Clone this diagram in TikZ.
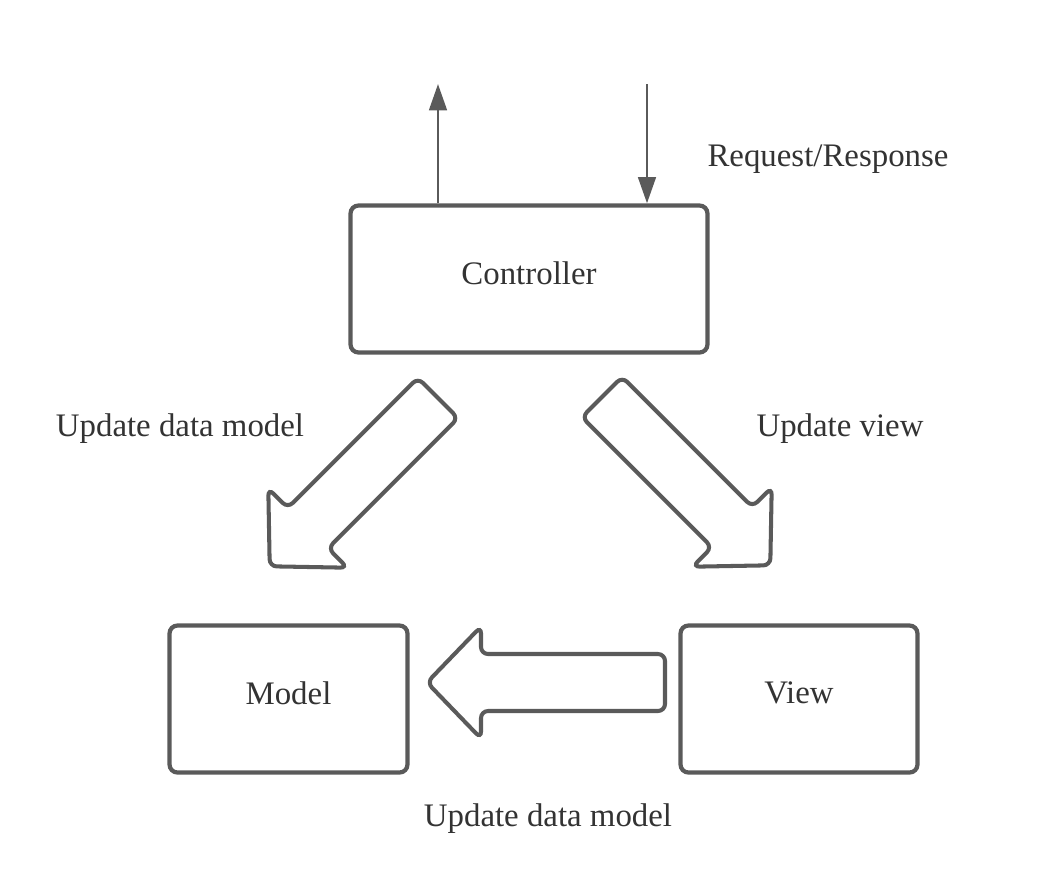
\documentclass[tikz,border=0pt]{standalone}
\usepackage{fontspec}
\setmainfont{Liberation Serif}
\usetikzlibrary{arrows.meta}
\definecolor{linegray}{HTML}{5A5A5A}
\definecolor{textgray}{HTML}{333333}
\newcommand{\fatarrow}[2]{\draw[fat, shift={(#1)}, rotate=#2] (0,28.5) -- (184,28.5) -- (184,56) -- (238,0) -- (184,-56) -- (184,-28.5) -- (0,-28.5) -- cycle;}

\begin{document}
\begin{tikzpicture}[x=0.02cm, y=-0.02cm,
  box/.style={draw=linegray, line width=2.4pt, rounded corners=4.5pt, text=textgray, text depth=0.24cm, inner sep=0pt, minimum height=2.94cm},
  lbl/.style={text=textgray},
  fat/.style={draw=linegray, line width=2.3pt, rounded corners=4pt},
  flow/.style={draw=linegray, line width=1.7pt},
  >={Triangle[length=15pt,width=10pt]},
  font=\fontsize{18.7}{22}\selectfont]

\useasboundingbox (0,0) rectangle (1042,876);

\node[box, minimum width=7.14cm] (ctrl) at (529,279) {Controller};
\node[box, minimum width=4.76cm] (model) at (288.5,699) {Model};
\node[box, minimum width=4.74cm] (view) at (799,699) {View};

\coordinate (out) at (438,84);
\coordinate (in) at (647,84);

\begin{scope}[->]
\draw[flow] (ctrl.north -| out) -- (out);
\draw[flow] (in) -- (ctrl.north -| in);
\end{scope}

\fatarrow{438,398}{225}
\fatarrow{602,397}{-45}
\fatarrow{665,682.5}{180}

\node[lbl] (reqres) at (828,159) {Request/Response};
\node[lbl] (updmodel) at (180,429) {Update data model};
\node[lbl] (updview) at (840,429) {Update view};
\node[lbl] (updmodel2) at (548,819) {Update data model};
\end{tikzpicture}
\end{document}
